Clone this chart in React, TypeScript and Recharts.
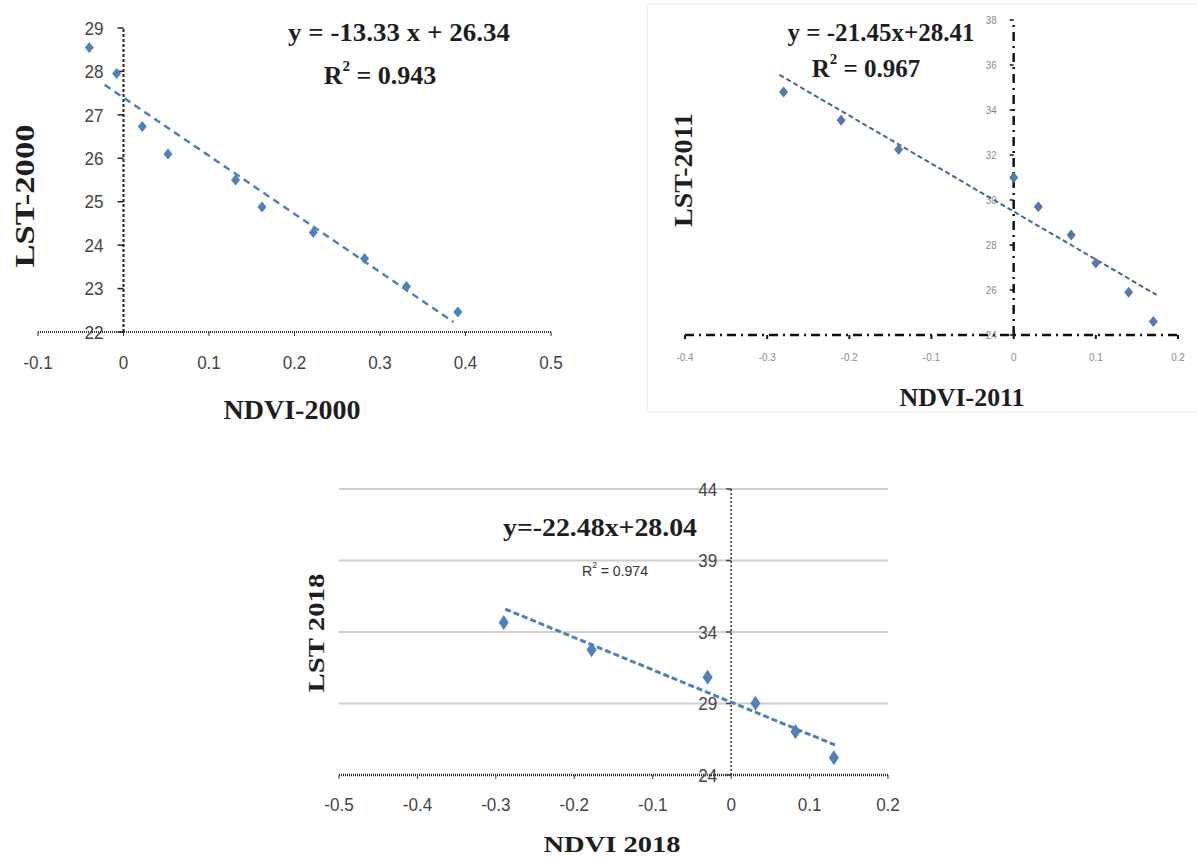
import React from "react";
import { ScatterChart, Scatter, XAxis, YAxis, ReferenceLine } from "recharts";

// ---------- data ----------
const ndvi2000 = [-0.04, -0.008, 0.022, 0.052, 0.131, 0.162, 0.222, 0.282, 0.331, 0.391];
const lst2000 = [28.55, 27.95, 26.73, 26.1, 25.5, 24.88, 24.29, 23.69, 23.05, 22.46];
const trend2000X = [-0.022, 0.386];
const trend2000Y = [27.69, 22.23];
const xTicks2000 = [-0.1, 0, 0.1, 0.2, 0.3, 0.4, 0.5];
const yTicks2000 = [22, 23, 24, 25, 26, 27, 28, 29];

const ndvi2011 = [-0.28, -0.21, -0.14, 0, 0.03, 0.07, 0.1, 0.14, 0.17];
const lst2011 = [34.8, 33.55, 32.25, 31.0, 29.7, 28.45, 27.2, 25.9, 24.6];
const trend2011X = [-0.285, 0.174];
const trend2011Y = [35.56, 25.78];
const xTicks2011 = [-0.4, -0.3, -0.2, -0.1, 0, 0.1, 0.2];
const yTicks2011 = [24, 26, 28, 30, 32, 34, 36, 38];

const ndvi2018 = [-0.29, -0.178, -0.03, 0.031, 0.082, 0.131];
const lst2018 = [34.67, 32.76, 30.84, 29.02, 27.03, 25.21];
const trend2018X = [-0.288, 0.1325];
const trend2018Y = [35.6, 26.1];
const xTicks2018 = [-0.5, -0.4, -0.3, -0.2, -0.1, 0, 0.1, 0.2];
const yTicks2018 = [24, 29, 34, 39, 44];
const grid2018 = [29, 34, 39, 44];

const zip = (xs: number[], ys: number[]) => xs.map((x, i) => ({ x, y: ys[i] }));
const yTickPts = (ticks: number[]) => ticks.map((v) => ({ x: 0, y: v }));

const SANS = "'Liberation Sans', Arial, sans-serif";
const SERIF = "'Liberation Serif', 'Times New Roman', serif";

// condensed (Calibri-like) text width estimate, used with textLength
const narrowWidth = (s: string, size: number) => {
  let w = 0;
  for (const c of s) {
    if (c >= "0" && c <= "9") w += 0.5;
    else if (c === ".") w += 0.25;
    else if (c === "-") w += 0.3;
    else if (c === " ") w += 0.23;
    else w += 0.52;
  }
  return w * size;
};

const NarrowText = ({ x, y, size, fill, anchor = "middle", dy, children }: any) => {
  const s = String(children);
  return (
    <text
      x={x}
      y={y}
      dy={dy}
      textAnchor={anchor}
      fontSize={size}
      fill={fill}
      fontFamily={SANS}
      textLength={narrowWidth(s, size)}
      lengthAdjust="spacingAndGlyphs"
    >
      {s}
    </text>
  );
};

const makeXTick = (size: number, fill: string) => (props: any) => {
  const { x, y, payload } = props;
  return <NarrowText x={x} y={y} dy="0.71em" size={size} fill={fill}>{payload.value}</NarrowText>;
};

const makeDiamond = (w: number, h: number, fill: string) => (props: any) => {
  const { cx, cy } = props;
  if (cx == null || cy == null) return <g />;
  return (
    <path
      d={`M${cx},${cy - h / 2} L${cx + w / 2},${cy} L${cx},${cy + h / 2} L${cx - w / 2},${cy} Z`}
      fill={fill}
    />
  );
};

const makeYTick = (gap: number, tick: number, size: number, color: string, tickColor: string) => (props: any) => {
  const { cx, cy, payload } = props;
  if (cx == null || cy == null) return <g />;
  return (
    <g>
      <line x1={cx - tick} y1={cy} x2={cx} y2={cy} stroke={tickColor} strokeWidth={1.5} />
      <NarrowText x={cx - gap} y={cy} dy="0.35em" anchor="end" size={size} fill={color}>
        {payload.y}
      </NarrowText>
    </g>
  );
};

const noShape = () => <g />;

const Title = ({ x, y, len, size, rotate, children, weight = "bold", family = SERIF, fill = "#1e1e1e" }: any) => (
  <text
    x={x}
    y={y}
    transform={rotate ? `rotate(-90 ${x} ${y})` : undefined}
    textAnchor="middle"
    dominantBaseline="central"
    fontSize={size}
    fontWeight={weight}
    fontFamily={family}
    fill={fill}
    textLength={len}
    lengthAdjust="spacingAndGlyphs"
  >
    {children}
  </text>
);

export default function App() {
  return (
    <div style={{ position: "absolute", left: 0, top: 0, width: 1197, height: 859, background: "#fff", overflow: "hidden" }}>
      {/* Chart 1: 2000 */}
      <div style={{ position: "absolute", left: 0, top: 0 }}>
        <ScatterChart width={600} height={420} margin={{ top: 28, right: 49, bottom: 48, left: 38 }}>
          <XAxis
            type="number"
            dataKey="x"
            domain={[-0.1, 0.5]}
            ticks={xTicks2000}
            interval={0}
            height={40}
            axisLine={{ stroke: "#333", strokeWidth: 2, strokeDasharray: "1 1" }}
            tickLine={{ stroke: "#333" }}
            tickSize={4}
            tickMargin={20}
            tick={makeXTick(19, "#454545")}
          />
          <YAxis type="number" dataKey="y" domain={[22, 29]} hide />
          <ReferenceLine x={0} stroke="#222" strokeWidth={2} strokeDasharray="3 2" />
          <Scatter data={yTickPts(yTicks2000)} shape={makeYTick(20, 6, 19, "#454545", "#222")} isAnimationActive={false} />
          <Scatter
            data={zip(trend2000X, trend2000Y)}
            line={{ stroke: "#4f81bd", strokeWidth: 2.5, strokeDasharray: "7 5" }}
            shape={noShape}
            isAnimationActive={false}
          />
          <Scatter data={zip(ndvi2000, lst2000)} shape={makeDiamond(9, 11, "#4f81bd")} isAnimationActive={false} />
        </ScatterChart>
      </div>

      {/* Chart 2: 2011 */}
      <div style={{ position: "absolute", left: 640, top: 0 }}>
        <ScatterChart width={557} height={420} margin={{ top: 20, right: 19, bottom: 45, left: 45 }}>
          <XAxis
            type="number"
            dataKey="x"
            domain={[-0.4, 0.2]}
            ticks={xTicks2011}
            interval={0}
            height={40}
            axisLine={{ stroke: "#111", strokeWidth: 2.5, strokeDasharray: "9 5 2 5" }}
            tickLine={{ stroke: "#111", strokeWidth: 2 }}
            tickSize={4}
            tickMargin={14}
            tick={makeXTick(11, "#8a8a8a")}
          />
          <YAxis type="number" dataKey="y" domain={[24, 38]} hide />
          <ReferenceLine x={0} stroke="#111" strokeWidth={2.5} strokeDasharray="9 5 2 5" />
          <Scatter data={yTickPts(yTicks2011)} shape={makeYTick(17, 4, 11, "#8a8a8a", "#111")} isAnimationActive={false} />
          <Scatter
            data={zip(trend2011X, trend2011Y)}
            line={{ stroke: "#46688f", strokeWidth: 2, strokeDasharray: "5 3" }}
            shape={noShape}
            isAnimationActive={false}
          />
          <Scatter data={zip(ndvi2011, lst2011)} shape={makeDiamond(9, 11, "#5679ad")} isAnimationActive={false} />
        </ScatterChart>
      </div>

      {/* Chart 3: 2018 */}
      <div style={{ position: "absolute", left: 270, top: 460 }}>
        <ScatterChart width={660} height={399} margin={{ top: 29, right: 42, bottom: 44, left: 69 }}>
          <XAxis
            type="number"
            dataKey="x"
            domain={[-0.5, 0.2]}
            ticks={xTicks2018}
            interval={0}
            height={40}
            axisLine={{ stroke: "#222", strokeWidth: 2.5, strokeDasharray: "1 1" }}
            tickLine={{ stroke: "#444" }}
            tickSize={4}
            tickMargin={19}
            tick={makeXTick(19, "#454545")}
          />
          <YAxis type="number" dataKey="y" domain={[24, 44]} hide />
          {grid2018.map((g) => (
            <ReferenceLine key={g} y={g} stroke="#cfcfcf" strokeWidth={2} />
          ))}
          <ReferenceLine x={0} stroke="#333" strokeWidth={1.5} strokeDasharray="2 2" />
          <Scatter data={yTickPts(yTicks2018)} shape={makeYTick(14, 5, 19, "#454545", "#444")} isAnimationActive={false} />
          <Scatter
            data={zip(trend2018X, trend2018Y)}
            line={{ stroke: "#4f81bd", strokeWidth: 3, strokeDasharray: "6 3" }}
            shape={noShape}
            isAnimationActive={false}
          />
          <Scatter data={zip(ndvi2018, lst2018)} shape={makeDiamond(10, 15, "#4f81bd")} isAnimationActive={false} />
        </ScatterChart>
      </div>

      {/* Titles and equations */}
      <svg width={1197} height={859} style={{ position: "absolute", left: 0, top: 0, pointerEvents: "none" }}>
        <rect x={647} y={4} width={560} height={408} fill="none" stroke="#f2f2f2" strokeWidth={1.5} />

        <Title x={24} y={196} len={143} size={28} rotate>LST-2000</Title>
        <Title x={292} y={410} len={137} size={27}>NDVI-2000</Title>
        <Title x={399} y={32} len={222} size={26}>y = -13.33 x + 26.34</Title>
        <text x={380} y={75} textAnchor="middle" dominantBaseline="central" fontSize={26} fontWeight="bold" fontFamily={SERIF} fill="#1e1e1e">
          R<tspan dy={-9} fontSize={15}>2</tspan><tspan dy={9}> = 0.943</tspan>
        </text>

        <Title x={683} y={170} len={114} size={25} rotate>LST-2011</Title>
        <Title x={962} y={397} len={125} size={25}>NDVI-2011</Title>
        <Title x={881} y={32} len={187} size={25}>y = -21.45x+28.41</Title>
        <text x={866} y={68} textAnchor="middle" dominantBaseline="central" fontSize={25} fontWeight="bold" fontFamily={SERIF} fill="#1e1e1e">
          R<tspan dy={-9} fontSize={15}>2</tspan><tspan dy={9}> = 0.967</tspan>
        </text>

        <Title x={316} y={633} len={119} size={24} rotate>LST  2018</Title>
        <Title x={612} y={844} len={137} size={24}>NDVI  2018</Title>
        <Title x={600} y={527} len={194} size={25}>y=-22.48x+28.04</Title>
        <text x={615} y={570} textAnchor="middle" dominantBaseline="central" fontSize={15} fontFamily={SANS} fill="#333" textLength={66} lengthAdjust="spacingAndGlyphs">
          R<tspan dy={-5} fontSize={9}>2</tspan><tspan dy={5}> = 0.974</tspan>
        </text>
      </svg>
    </div>
  );
}
